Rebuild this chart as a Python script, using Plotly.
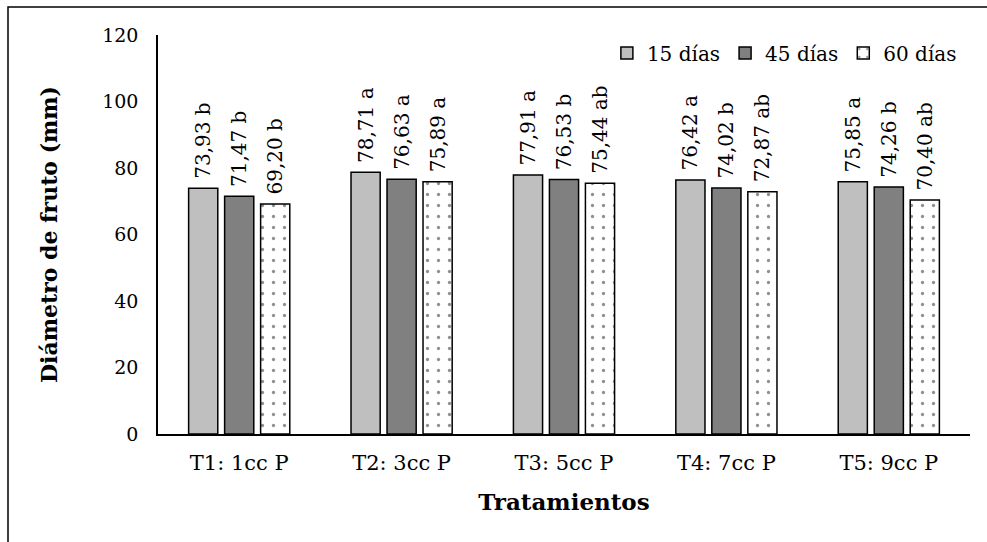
import plotly.graph_objects as go

# Treatments and fruit diameter (mm) per sampling day
tratamientos = ["T1: 1cc P", "T2: 3cc P", "T3: 5cc P", "T4: 7cc P", "T5: 9cc P"]
dias_15 = [73.93, 78.71, 77.91, 76.42, 75.85]
dias_45 = [71.47, 76.63, 76.53, 74.02, 74.26]
dias_60 = [69.20, 75.89, 75.44, 72.87, 70.40]
letras_15 = ["b", "a", "a", "a", "a"]
letras_45 = ["b", "a", "b", "b", "b"]
letras_60 = ["b", "a", "ab", "ab", "ab"]
y_ticks = [0, 20, 40, 60, 80, 100, 120]

FONT = "DejaVu Serif"
W, H = 987, 542
ML, MR, MT, MB = 158, 17, 35, 108


def etiquetas(vals, letras):
    # non-breaking space keeps a small gap between bar top and label
    return ["\u00a0" + f"{v:.2f}".replace(".", ",") + " " + l
            for v, l in zip(vals, letras)]


fig = go.Figure()
series = [
    ("15 días", dias_15, letras_15, dict(color="#BFBFBF")),
    ("45 días", dias_45, letras_45, dict(color="#808080")),
    ("60 días", dias_60, letras_60,
     dict(color="white",
          pattern=dict(shape=".", fgcolor="#222222", bgcolor="white",
                       size=11, solidity=0.07))),
]
for name, vals, letras, mk in series:
    fig.add_trace(go.Bar(
        name=name, x=tratamientos, y=vals,
        text=etiquetas(vals, letras),
        textposition="outside", textangle=-90, constraintext="none",
        textfont=dict(family=FONT, size=20, color="black"),
        cliponaxis=False,
        marker=dict(line=dict(color="black", width=1.5), **mk),
    ))

pw = W - ML - MR
ph = H - MT - MB
# outer frame of the chart (left/top edges visible)
fig.add_shape(type="rect", xref="paper", yref="paper",
              x0=(8 - ML) / pw, x1=(W + 5 - ML) / pw,
              y0=-(H + 5 - MT - ph) / ph, y1=(H - MB - 7) / ph,
              line=dict(color="black", width=1.5), fillcolor="rgba(0,0,0,0)",
              layer="below")

fig.update_layout(
    width=W, height=H,
    margin=dict(l=ML, r=MR, t=MT, b=MB),
    paper_bgcolor="white", plot_bgcolor="white",
    barmode="group", bargap=0.335, bargroupgap=0.19,
    font=dict(family=FONT, size=19, color="black"),
    showlegend=True,
    legend=dict(orientation="h", x=0.99, xanchor="right", y=0.955,
                yanchor="middle", font=dict(family=FONT, size=20),
                bgcolor="rgba(0,0,0,0)", itemwidth=30, traceorder="normal"),
    xaxis=dict(
        showline=True, linecolor="black", linewidth=1.5, ticks="",
        tickfont=dict(family=FONT, size=21), ticklabelstandoff=9,
        title=dict(text="<b>Tratamientos</b>", font=dict(family=FONT, size=23),
                   standoff=20),
    ),
    yaxis=dict(
        range=[0, 120], tickvals=y_ticks, showgrid=False, zeroline=False,
        showline=True, linecolor="black", linewidth=1.5, ticks="",
        tickfont=dict(family=FONT, size=19), ticklabelstandoff=14,
        title=dict(text="<b>Diámetro de fruto (mm)</b>",
                   font=dict(family=FONT, size=22), standoff=38),
    ),
)

fig.write_html("out.html")
